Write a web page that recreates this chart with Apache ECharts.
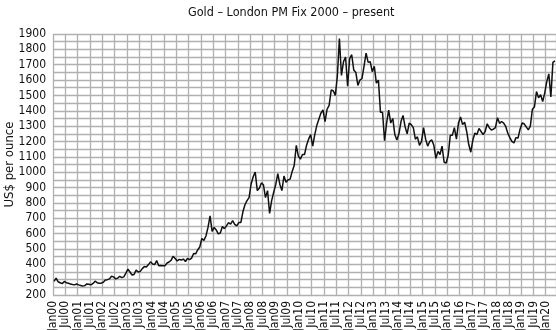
<!DOCTYPE html>
<html>
<head>
<meta charset="utf-8">
<script src="https://cdn.jsdelivr.net/npm/echarts@6/dist/echarts.min.js"></script>
<style>html,body{margin:0;padding:0;background:#fff}#c{width:556px;height:330px}</style>
</head>
<body>
<div id="c"></div>
<script>
// Gold – London PM Fix, monthly values (US$ per ounce), Jan 2000 .. May 2020
const title = 'Gold – London PM Fix 2000 – present';
const yAxisName = 'US$ per ounce';
const monthNames = ['Jan', 'Jul'];
const firstYear = 2000;
const p2000 = [289, 310, 286, 280, 274, 288, 280, 276, 272, 268, 266, 272];
const p2001 = [266, 262, 258, 261, 272, 270, 266, 275, 290, 280, 276, 277];
const p2002 = [283, 298, 300, 305, 322, 318, 305, 310, 322, 313, 318, 342];
const p2003 = [368, 350, 330, 334, 362, 350, 354, 372, 385, 382, 398, 416];
const p2004 = [402, 398, 424, 390, 392, 390, 391, 407, 415, 425, 452, 438];
const p2005 = [422, 432, 428, 434, 418, 438, 430, 440, 470, 468, 495, 513];
const p2006 = [568, 556, 584, 640, 715, 614, 640, 624, 598, 604, 646, 632];
const p2007 = [650, 672, 661, 684, 660, 650, 672, 672, 742, 788, 815, 834];
const p2008 = [923, 970, 1000, 880, 895, 930, 918, 834, 880, 732, 815, 870];
const p2009 = [920, 990, 920, 880, 975, 934, 950, 955, 1005, 1045, 1175, 1105];
const p2010 = [1085, 1115, 1115, 1175, 1215, 1245, 1170, 1245, 1305, 1345, 1385, 1405];
const p2011 = [1330, 1410, 1435, 1535, 1530, 1500, 1625, 1870, 1630, 1720, 1750, 1560];
const p2012 = [1740, 1765, 1665, 1650, 1565, 1600, 1610, 1690, 1775, 1715, 1720, 1655];
const p2013 = [1690, 1580, 1600, 1390, 1390, 1205, 1320, 1405, 1320, 1350, 1245, 1210];
const p2014 = [1250, 1330, 1370, 1295, 1250, 1320, 1310, 1290, 1215, 1230, 1175, 1200];
const p2015 = [1290, 1215, 1170, 1200, 1210, 1175, 1090, 1135, 1115, 1170, 1065, 1060];
const p2016 = [1110, 1240, 1240, 1290, 1215, 1320, 1360, 1310, 1325, 1265, 1180, 1130];
const p2017 = [1210, 1255, 1245, 1285, 1265, 1245, 1265, 1315, 1290, 1275, 1280, 1290];
const p2018 = [1355, 1318, 1330, 1320, 1298, 1255, 1225, 1200, 1190, 1225, 1222, 1280];
const p2019 = [1320, 1315, 1295, 1275, 1300, 1410, 1425, 1525, 1485, 1505, 1460, 1515];
const p2020 = [1590, 1640, 1490, 1715, 1725];

const years = [p2000, p2001, p2002, p2003, p2004, p2005, p2006, p2007, p2008, p2009, p2010,
  p2011, p2012, p2013, p2014, p2015, p2016, p2017, p2018, p2019, p2020];
const prices = [].concat(...years);
// x = months since Jan 2000 (value placed mid-month)
const data = prices.map((v, i) => [i + 0.5, v]);
const lastMonth = prices.length;

const FONT = "'Liberation Sans Narrow','DejaVu Sans Condensed',sans-serif";
const chart = echarts.init(document.getElementById('c'), null, {renderer: 'canvas'});
chart.setOption({
  animation: false,
  backgroundColor: '#fff',
  title: {
    text: title, left: 183, top: 1,
    textStyle: {fontFamily: FONT, fontSize: 12.5, fontWeight: 'normal', color: '#111'}
  },
  grid: {left: 53, right: 0, top: 34, bottom: 35, containLabel: false, outerBoundsMode: 'none'},
  xAxis: {
    type: 'value', min: 0, max: lastMonth, interval: 6,
    axisLine: {show: false}, axisTick: {show: false},
    splitLine: {show: true, lineStyle: {color: '#b0b0b0', width: 1.3}},
    axisLabel: {
      rotate: 90, margin: 6, showMaxLabel: false, hideOverlap: false,
      fontFamily: FONT, fontSize: 12, color: '#111',
      formatter: v => {
        if (v % 6 !== 0) return '';
        const y = firstYear + Math.floor(v / 12);
        return monthNames[(v % 12) / 6] + String(y % 100).padStart(2, '0');
      }
    }
  },
  yAxis: {
    type: 'value', min: 200, max: 1900, interval: 50,
    name: yAxisName, nameLocation: 'middle', nameGap: 37, nameMoveOverlap: false,
    nameTextStyle: {fontFamily: FONT, fontSize: 13, color: '#111'},
    axisLine: {show: false}, axisTick: {show: false},
    splitLine: {show: true, lineStyle: {color: '#b0b0b0', width: 1.3}},
    axisLabel: {
      margin: 7, fontFamily: FONT, fontSize: 12, color: '#111',
      formatter: v => (v % 100 === 0 ? String(v) : '')
    }
  },
  series: [{
    type: 'line', data: data, showSymbol: false,
    lineStyle: {color: '#111', width: 1.5}
  }]
});
</script>
</body>
</html>
